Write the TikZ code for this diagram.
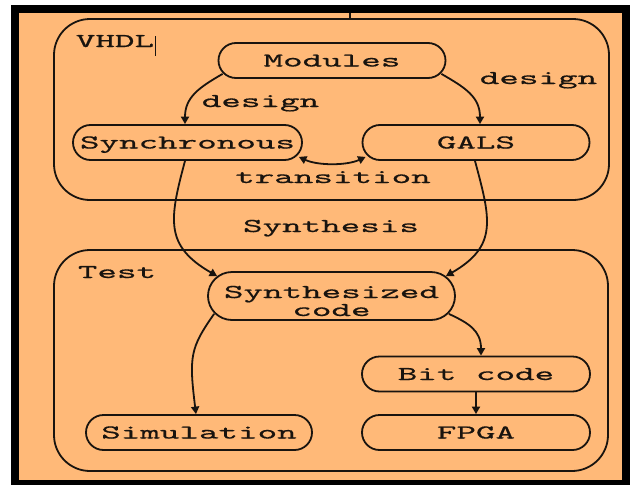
\documentclass[tikz,border=0pt]{standalone}
\usepackage{fontspec}
\newfontfamily\cour{lmmono10-regular.otf}[FakeStretch=1.9,FakeBold=0.6]
\usetikzlibrary{arrows.meta}
\definecolor{bgor}{RGB}{255,185,120}
\definecolor{ink}{RGB}{25,20,15}
\begin{document}
\begin{tikzpicture}[x=1pt,y=-1pt,
  txt/.style={font=\cour\fontsize{19.6}{18}\selectfont, text=ink},
  box/.style={txt, draw=ink, line width=1.8pt, rectangle, rounded corners=17.5pt,
    minimum width=228pt, minimum height=35pt, inner sep=0pt, text height=12pt, text depth=0pt},
  grp/.style={draw=ink, line width=1.8pt, rectangle, rounded corners=36pt, inner sep=0pt},
  lbl/.style={txt, anchor=base, inner sep=0pt},
  arr/.style={draw=ink, line width=1.8pt, -{Triangle[length=7.5pt,width=8pt]}},
  arrr/.style={draw=ink, line width=1.8pt, {Triangle[length=7.5pt,width=8pt]}-{Triangle[length=7.5pt,width=8pt]}}]
\useasboundingbox (0,0) rectangle (630,485);
\fill[white] (0,0) rectangle (630,485);
\fill[black] (11,4.5) rectangle (630,485);
\fill[bgor] (19,13) rectangle (622,480);
% group boxes
\node[grp, minimum width=555pt, minimum height=181pt] (vhdl) at (331.5,109.5) {};
\node[grp, minimum width=554pt, minimum height=221pt] (test) at (331,360.5) {};
\coordinate (topc) at (350,13);
\draw[ink, line width=1.8pt] (topc) -- (topc |- vhdl.north);
\node[lbl] (vl) at (115,47) {VHDL};
\draw[ink, line width=1.3pt] ([xshift=1pt,yshift=11pt]vl.base east) -- ([xshift=1pt,yshift=-9pt]vl.base east);
\node[lbl] (tl) at (117,278) {Test};
% nodes
\node[box, minimum width=227pt] (m) at (332,60.5) {Modules};
\node[box, minimum width=229pt] (s) at (187.5,142.5) {Synchronous};
\node[box, minimum width=227pt] (g) at (476,142.5) {GALS};
\node[box, minimum width=247pt, minimum height=48pt, rounded corners=24pt, align=center, text height=40pt, text depth=0pt] (sc) at (331.5,296) {Synthesized\\code};
\node[box] (b) at (476,374) {Bit code};
\node[box, minimum width=226pt] (sim) at (199,432.5) {Simulation};
\node[box] (f) at (476,432.5) {FPGA};
% labels
\node[lbl] at (260.5,107) {design};
\node[lbl] at (538.5,84) {design};
\node[lbl] at (333,183) {transition};
\node[lbl] at (331,232) {Synthesis};
% edges
\draw[arr] ([xshift=5pt,yshift=5pt]m.south west) to[out=210,in=90,looseness=1.1] ([xshift=-2.5pt]s.north);
\draw[arr] ([xshift=-5pt,yshift=5pt]m.south east) to[out=-30,in=90,looseness=1.1] ([xshift=4pt]g.north);
\draw[arrr] ([xshift=-4pt,yshift=4pt]s.south east) to[out=-25,in=205,looseness=0.8] ([xshift=4pt,yshift=4pt]g.south west);
\draw[arr] ([xshift=-2.5pt]s.south) to[out=-105,in=150,looseness=1.3] ([xshift=10pt,yshift=-5pt]sc.north west);
\draw[arr] ([xshift=-1pt]g.south) to[out=-75,in=30,looseness=1.3] ([xshift=-10pt,yshift=-5pt]sc.north east);
\draw[arr] ([xshift=7pt,yshift=7pt]sc.south west) to[out=235,in=97,out distance=42pt,in distance=58pt] ([xshift=-3pt]sim.north);
\draw[arr] ([xshift=-7pt,yshift=7pt]sc.south east) to[out=-25,in=90,out distance=22pt,in distance=25pt] ([xshift=5pt]b.north);
\draw[arr] (b.south) -- (f.north);
\end{tikzpicture}
\end{document}
